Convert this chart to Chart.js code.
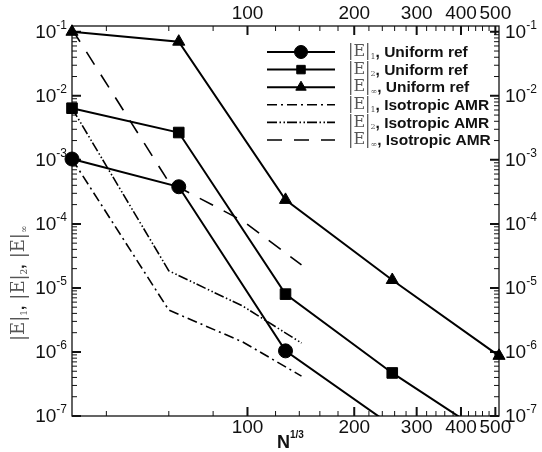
<!DOCTYPE html>
<html>
<head>
<meta charset="utf-8">
<script src="https://cdn.jsdelivr.net/npm/chart.js@4.4.0/dist/chart.umd.min.js"></script>
<style>
html, body { margin: 0; padding: 0; background: #fff; }
#wrap { width: 542px; height: 452px; position: relative; }
</style>
</head>
<body>
<div id="wrap"><canvas id="errChart"></canvas></div>
<script>
// uniform refinement, N^(1/3)
const resUniform = [32, 64, 128, 256, 512];
const errL1Uniform = [1.03e-3, 3.8e-4, 1.04e-6, 7.0e-8];
const errL2Uniform = [6.4e-3, 2.67e-3, 8.0e-6, 4.7e-7, 3.8e-8];
const errLinfUniform = [0.100, 0.070, 2.37e-4, 1.33e-5, 8.7e-7];

// isotropic AMR
const resAMR = [32, 60, 97, 142];
const errL1AMR = [1.03e-3, 4.5e-6, 1.43e-6, 4.2e-7];
const errL2AMR = [6.4e-3, 1.85e-5, 5.2e-6, 1.38e-6];
const errLinfAMR = [0.11, 4.5e-4, 1.11e-4, 2.29e-5];

const xTickLabels = [100, 200, 300, 400, 500];
const yExponents = [-1, -2, -3, -4, -5, -6, -7];
const normSubs = ['1', '2', '\u221e', '1', '2', '\u221e'];
const legendNames = ['Uniform ref', 'Uniform ref', 'Uniform ref', 'Isotropic AMR', 'Isotropic AMR', 'Isotropic AMR'];

const SANS = '"Liberation Sans", Arial, sans-serif';
const SERIF = '"DejaVu Serif", serif';

function pts(xs, ys) {
    return ys.map((y, i) => ({ x: xs[i], y: y }));
}

function uniformSet(i, data, style) {
    return {
        label: '|E|' + normSubs[i] + ', ' + legendNames[i],
        data: data,
        borderColor: '#000',
        backgroundColor: '#000',
        borderWidth: 2,
        pointStyle: style,
        pointRadius: style === 'rect' ? 7.5 : 7,
        pointBorderWidth: 1,
        clip: { left: 10, right: 10, top: 10, bottom: 0 }
    };
}

function amrSet(i, data, dash) {
    return {
        label: '|E|' + normSubs[i] + ', ' + legendNames[i],
        data: data,
        borderColor: '#000',
        backgroundColor: '#000',
        borderWidth: 1.6,
        borderDash: dash,
        pointRadius: 0,
        clip: { left: 10, right: 10, top: 10, bottom: 0 }
    };
}

// draws "|E|" + subscript, returns the end x
function drawNorm(ctx, sub, x, y, size) {
    ctx.textAlign = 'left';
    ctx.textBaseline = 'middle';
    ctx.fillStyle = '#555';
    ctx.font = size + 'px ' + SERIF;
    ctx.fillText('|E|', x, y);
    x += ctx.measureText('|E|').width;
    ctx.font = Math.round(size * 0.5) + 'px ' + SERIF;
    ctx.fillText(sub, x, y + size * 0.3);
    return x + ctx.measureText(sub).width;
}

function drawPow(ctx, exp, x, y, align) {
    ctx.font = '19px ' + SANS;
    const wb = ctx.measureText('10').width;
    ctx.font = '12px ' + SANS;
    const ws = ctx.measureText(exp).width;
    const x0 = align === 'right' ? x - wb - ws : x;
    ctx.textAlign = 'left';
    ctx.textBaseline = 'middle';
    ctx.fillStyle = '#111';
    ctx.font = '19px ' + SANS;
    ctx.fillText('10', x0, y + 1);
    ctx.font = '12px ' + SANS;
    ctx.fillText(exp, x0 + wb, y - 6);
}

const framePlugin = {
    id: 'frame',
    beforeDatasetsDraw(chart) {
        const { ctx, chartArea: a, scales: { x, y } } = chart;
        ctx.save();
        ctx.strokeStyle = '#111';
        ctx.lineWidth = 1.3;
        ctx.strokeRect(a.left, a.top, a.right - a.left, a.bottom - a.top);

        // minor ticks
        ctx.beginPath();
        ctx.lineWidth = 1;
        for (let v = 40; v < 512; v += 20) {
            if (xTickLabels.includes(v)) continue;
            const px = x.getPixelForValue(v);
            ctx.moveTo(px, a.bottom); ctx.lineTo(px, a.bottom - 5);
            ctx.moveTo(px, a.top); ctx.lineTo(px, a.top + 5);
        }
        yExponents.forEach(e => {
            for (let k = 2; k <= 9; k++) {
                const v = k * Math.pow(10, e);
                if (v > y.max) continue;
                const py = y.getPixelForValue(v);
                ctx.moveTo(a.left, py); ctx.lineTo(a.left + 5, py);
                ctx.moveTo(a.right, py); ctx.lineTo(a.right - 5, py);
            }
        });
        ctx.stroke();

        // major ticks
        ctx.beginPath();
        ctx.lineWidth = 2;
        xTickLabels.forEach(v => {
            const px = x.getPixelForValue(v);
            ctx.moveTo(px, a.bottom); ctx.lineTo(px, a.bottom - 9);
            ctx.moveTo(px, a.top); ctx.lineTo(px, a.top + 9);
        });
        yExponents.forEach(e => {
            const py = y.getPixelForValue(Math.pow(10, e));
            ctx.moveTo(a.left, py); ctx.lineTo(a.left + 9, py);
            ctx.moveTo(a.right, py); ctx.lineTo(a.right - 9, py);
        });
        ctx.stroke();
        ctx.restore();
    },
    afterDraw(chart) {
        const { ctx, chartArea: a, scales: { x, y } } = chart;
        ctx.save();

        // tick labels
        ctx.fillStyle = '#111';
        ctx.font = '19px ' + SANS;
        ctx.textAlign = 'center';
        ctx.textBaseline = 'middle';
        xTickLabels.forEach(v => {
            const px = x.getPixelForValue(v);
            ctx.fillText(String(v), px, a.bottom + 12);
            ctx.fillText(String(v), px, a.top - 12);
        });
        yExponents.forEach(e => {
            const py = y.getPixelForValue(Math.pow(10, e));
            drawPow(ctx, String(e), a.left - 5, py, 'right');
            drawPow(ctx, String(e), a.right + 6, py, 'left');
        });

        // x title
        ctx.fillStyle = '#111';
        ctx.textAlign = 'left';
        ctx.font = 'bold 18px ' + SANS;
        ctx.fillText('N', 277, 443);
        const wN = ctx.measureText('N').width;
        ctx.font = 'bold 10px ' + SANS;
        ctx.fillText('1/3', 277 + wN, 435);

        // y title, rotated
        ctx.save();
        ctx.translate(19, 243);
        ctx.rotate(-Math.PI / 2);
        let tx = -98;
        for (let i = 0; i < 3; i++) {
            tx = drawNorm(ctx, normSubs[i], tx, 0, 18);
            if (i < 2) {
                ctx.font = 'bold 15px ' + SANS;
                ctx.fillStyle = '#222';
                ctx.fillText(',', tx, 1);
                tx += ctx.measureText(', ').width + 2;
            }
        }
        ctx.restore();

        // legend
        const x0 = a.left + 195, x1 = a.left + 263, xm = a.left + 229;
        chart.data.datasets.forEach((ds, i) => {
            const ry = a.top + 26 + i * 17.6;
            ctx.save();
            ctx.strokeStyle = '#000';
            ctx.fillStyle = '#000';
            ctx.lineWidth = ds.borderWidth;
            ctx.setLineDash(ds.borderDash || []);
            ctx.beginPath();
            ctx.moveTo(x0, ry);
            ctx.lineTo(x1, ry);
            ctx.stroke();
            ctx.setLineDash([]);
            if (ds.pointRadius > 0) {
                ctx.lineWidth = 1;
                Chart.helpers.drawPoint(ctx, {
                    pointStyle: ds.pointStyle,
                    radius: ds.pointStyle === 'circle' ? 6.5 : 6,
                    rotation: 0,
                    borderWidth: 1
                }, xm, ry);
            }
            ctx.restore();
            let tx2 = drawNorm(ctx, normSubs[i], a.left + 276, ry, 16);
            ctx.font = 'bold 15.5px ' + SANS;
            ctx.fillStyle = '#111';
            ctx.fillText(', ' + legendNames[i], tx2, ry + 1);
        });
        ctx.restore();
    }
};

const config = {
    type: 'line',
    data: {
        datasets: [
            uniformSet(0, pts(resUniform, errL1Uniform), 'circle'),
            uniformSet(1, pts(resUniform, errL2Uniform), 'rect'),
            uniformSet(2, pts(resUniform, errLinfUniform), 'triangle'),
            amrSet(3, pts(resAMR, errL1AMR), [10, 4, 2, 4]),
            amrSet(4, pts(resAMR, errL2AMR), [10, 2.5, 1.5, 2.5, 1.5, 2]),
            amrSet(5, pts(resAMR, errLinfAMR), [15, 12])
        ]
    },
    options: {
        responsive: true,
        maintainAspectRatio: false,
        devicePixelRatio: 1,
        animation: false,
        layout: { padding: { left: 72, right: 43, top: 26, bottom: 36 } },
        scales: {
            x: { type: 'logarithmic', min: 32, max: 512, display: false },
            y: { type: 'logarithmic', min: 1e-7, max: 0.123, display: false }
        },
        plugins: {
            legend: { display: false },
            tooltip: { enabled: false }
        },
        elements: { line: { tension: 0 } }
    },
    plugins: [framePlugin]
};

const errChart = new Chart(document.getElementById('errChart'), config);
</script>
</body>
</html>
